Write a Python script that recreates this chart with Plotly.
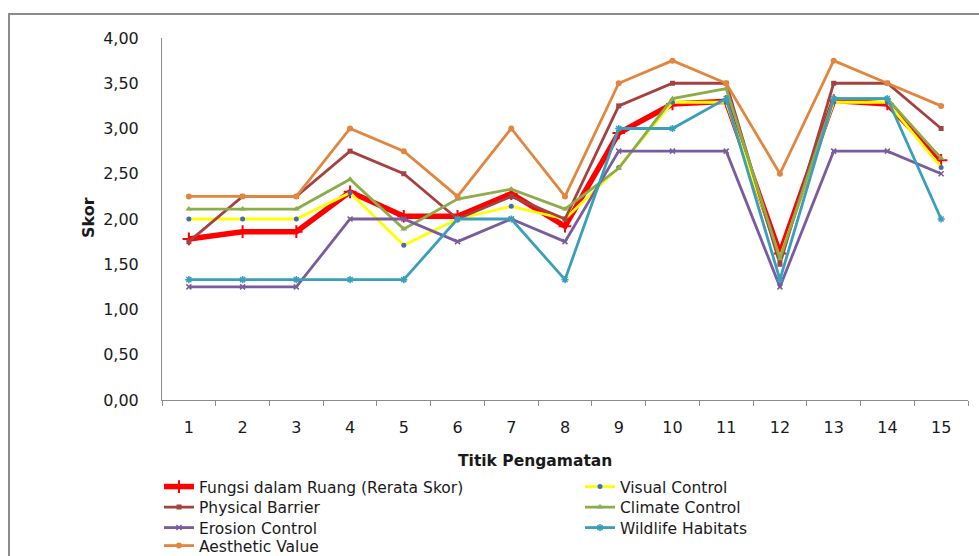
import plotly.graph_objects as go

# Observation points
titik = [str(i) for i in range(1, 16)]

# Scores per function
fungsi_rerata = [1.78, 1.86, 1.86, 2.30, 2.03, 2.03, 2.28, 1.92, 2.95, 3.27, 3.30, 1.62, 3.31, 3.27, 2.65]
visual_control = [2.00, 2.00, 2.00, 2.29, 1.71, 2.00, 2.14, 2.00, 2.57, 3.29, 3.29, 1.57, 3.29, 3.29, 2.57]
physical_barrier = [1.75, 2.25, 2.25, 2.75, 2.50, 2.00, 2.25, 2.00, 3.25, 3.50, 3.50, 1.50, 3.50, 3.50, 3.00]
climate_control = [2.11, 2.11, 2.11, 2.44, 1.89, 2.22, 2.33, 2.11, 2.56, 3.33, 3.44, 1.56, 3.33, 3.33, 2.67]
erosion_control = [1.25, 1.25, 1.25, 2.00, 2.00, 1.75, 2.00, 1.75, 2.75, 2.75, 2.75, 1.25, 2.75, 2.75, 2.50]
wildlife_habitats = [1.33, 1.33, 1.33, 1.33, 1.33, 2.00, 2.00, 1.33, 3.00, 3.00, 3.33, 1.33, 3.33, 3.33, 2.00]
aesthetic_value = [2.25, 2.25, 2.25, 3.00, 2.75, 2.25, 3.00, 2.25, 3.50, 3.75, 3.50, 2.50, 3.75, 3.50, 3.25]

y_ticks = [0, 0.5, 1, 1.5, 2, 2.5, 3, 3.5, 4]

FONT = "DejaVu Sans"
TEXT = "#1A1A1A"

# plot area: x 162..968, y 38..400 (pixels)
PL, PR, PT, PB = 162, 968, 38, 400
PW, PH = PR - PL, PB - PT


def px(x):
    return (x - PL) / PW


def py(y):
    return (PB - y) / PH


# legend grid: two columns, four rows
COL_X = [159, 580]
ROW_Y = [487, 507.5, 528, 546]

# (name, values, line colour, line width, marker, legend column, legend row)
series = [
    ("Fungsi dalam Ruang (Rerata Skor)", fungsi_rerata, "#FF0000", 5.5,
     dict(symbol="cross-thin-open", size=9, line=dict(color="#9DB2D8", width=2)), 0, 0),
    ("Visual Control", visual_control, "#FFFF00", 2.8,
     dict(symbol="circle", size=5, color="#3F6EB4"), 1, 0),
    ("Physical Barrier", physical_barrier, "#A3423F", 2.8,
     dict(symbol="square", size=5, color="#A3423F"), 0, 1),
    ("Climate Control", climate_control, "#8CAD4B", 2.8,
     dict(symbol="triangle-up", size=6, color="#8CAD4B"), 1, 1),
    ("Erosion Control", erosion_control, "#7A5C9E", 2.8,
     dict(symbol="x-thin-open", size=5, line=dict(color="#7A5C9E", width=1.5)), 0, 2),
    ("Wildlife Habitats", wildlife_habitats, "#3A9FBB", 2.8,
     dict(symbol="asterisk-open", size=6, line=dict(color="#3A9FBB", width=1.5)), 1, 2),
    ("Aesthetic Value", aesthetic_value, "#E2863F", 2.8,
     dict(symbol="circle", size=6, color="#E2863F"), 0, 3),
]

fig = go.Figure()
legends = {}
for i, (name, vals, color, width, marker, col, row) in enumerate(series):
    key = "legend" if i == 0 else f"legend{i + 1}"
    fig.add_trace(go.Scatter(
        x=titik, y=vals, name=name, mode="lines+markers",
        line=dict(color=color, width=width),
        marker=marker, legend=key,
    ))
    legends[key] = dict(
        orientation="v", x=px(COL_X[col]), y=py(ROW_Y[row]),
        xanchor="left", yanchor="middle",
        font=dict(family=FONT, size=15.5, color=TEXT),
        bgcolor="rgba(0,0,0,0)", borderwidth=0,
    )

fig.update_layout(
    width=979, height=556,
    margin=dict(l=PL, r=979 - PR, t=PT, b=556 - PB, autoexpand=False),
    paper_bgcolor="white", plot_bgcolor="white",
    font=dict(family=FONT, color=TEXT),
    separators=",.",
    showlegend=True,
    xaxis=dict(
        type="category", range=[-0.5, 14.5],
        showline=True, linecolor="#8C8C8C", linewidth=1,
        ticks="outside", ticklen=5, tickcolor="#8C8C8C", tickson="boundaries",
        showgrid=False, zeroline=False,
        tickfont=dict(family=FONT, size=16, color=TEXT),
        ticklabelstandoff=13,
    ),
    yaxis=dict(
        range=[0, 4], tickvals=y_ticks, tickformat=".2f",
        showline=True, linecolor="#8C8C8C", linewidth=1,
        ticks="", showgrid=False, zeroline=False,
        tickfont=dict(family=FONT, size=16, color=TEXT),
        ticklabelstandoff=19,
    ),
    annotations=[
        dict(text="<b>Skor</b>", xref="paper", yref="paper",
             x=px(89), y=py(218), textangle=-90,
             showarrow=False, font=dict(family=FONT, size=16, color=TEXT),
             xanchor="center", yanchor="middle"),
        dict(text="<b>Titik Pengamatan</b>", xref="paper", yref="paper",
             x=px(535), y=py(461),
             showarrow=False, font=dict(family=FONT, size=15.5, color=TEXT),
             xanchor="center", yanchor="middle"),
    ],
    shapes=[
        dict(type="rect", xref="paper", yref="paper",
             x0=px(9), x1=px(1010), y0=py(620), y1=py(14),
             line=dict(color="#8C8C8C", width=2), layer="below"),
    ],
)
fig.update_layout(**legends)

fig.write_html("out.html")
